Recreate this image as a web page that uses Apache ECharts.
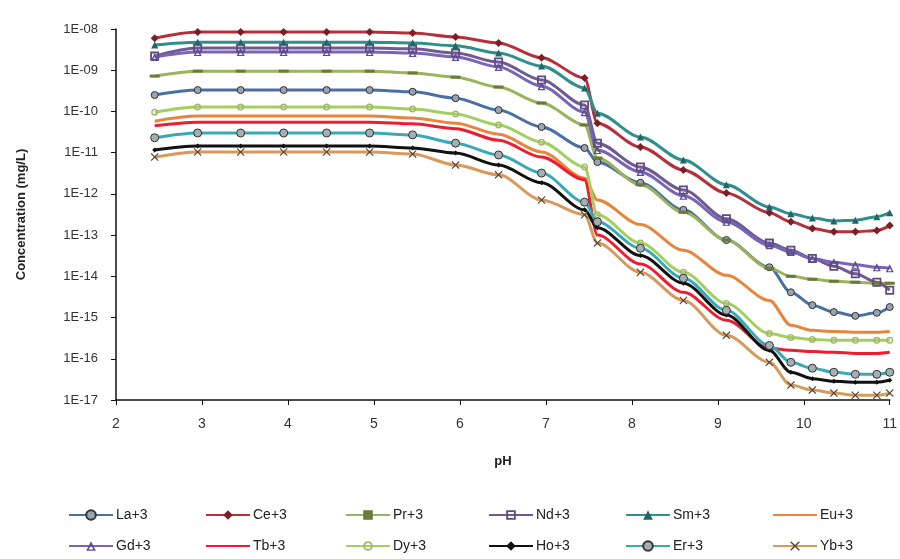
<!DOCTYPE html>
<html>
<head>
<meta charset="utf-8">
<title>REE concentration vs pH</title>
<script src="https://cdn.jsdelivr.net/npm/echarts@6/dist/echarts.min.js"></script>
<style>
  html, body { margin: 0; padding: 0; background: #fff; }
  #chartId { width: 900px; height: 559px; }
</style>
</head>
<body>
<div id="chartId"></div>
<script>
// pH points of the model runs
const pH = [2.45, 2.95, 3.45, 3.95, 4.45, 4.95, 5.45, 5.95, 6.45, 6.95, 7.45, 7.6, 8.1, 8.6, 9.1, 9.6, 9.85, 10.1, 10.35, 10.6, 10.85, 11]

// concentration (mg/L) of each ion
const la = [2.5e-10, 3.3e-10, 3.3e-10, 3.3e-10, 3.3e-10, 3.3e-10, 3.0e-10, 2.1e-10, 1.08e-10, 4.2e-11, 1.3e-11, 5.9e-12, 1.86e-12, 4.1e-13, 7.6e-14, 1.66e-14, 4.1e-15, 2.0e-15, 1.36e-15, 1.1e-15, 1.3e-15, 1.8e-15]
const ce = [6.0e-9, 8.5e-9, 8.5e-9, 8.4e-9, 8.5e-9, 8.5e-9, 8.0e-9, 6.4e-9, 4.6e-9, 2.0e-9, 6.5e-10, 5.2e-11, 1.37e-11, 3.8e-12, 1.05e-12, 3.5e-13, 2.1e-13, 1.44e-13, 1.2e-13, 1.2e-13, 1.3e-13, 1.7e-13]
const pr = [7.2e-10, 9.5e-10, 9.5e-10, 9.5e-10, 9.5e-10, 9.5e-10, 8.6e-10, 6.8e-10, 3.9e-10, 1.6e-10, 4.7e-11, 7.4e-12, 1.66e-12, 3.6e-13, 7.6e-14, 1.57e-14, 1.0e-14, 8.5e-15, 7.6e-15, 7.2e-15, 6.8e-15, 6.8e-15]
const nd = [2.2e-9, 3.45e-9, 3.45e-9, 3.45e-9, 3.45e-9, 3.45e-9, 3.3e-9, 2.6e-9, 1.58e-9, 5.8e-10, 1.43e-10, 1.7e-11, 4.5e-12, 1.24e-12, 2.5e-13, 6.4e-14, 4.3e-14, 2.7e-14, 1.75e-14, 1.15e-14, 7.2e-15, 4.6e-15]
const sm = [4.1e-9, 4.8e-9, 4.8e-9, 4.8e-9, 4.8e-9, 4.8e-9, 4.6e-9, 3.9e-9, 2.6e-9, 1.27e-9, 3.7e-10, 9.1e-11, 2.4e-11, 6.6e-12, 1.66e-12, 4.8e-13, 3.3e-13, 2.6e-13, 2.2e-13, 2.3e-13, 2.8e-13, 3.5e-13]
const eu = [5.8e-11, 7.7e-11, 7.7e-11, 7.7e-11, 7.7e-11, 7.7e-11, 6.9e-11, 5.2e-11, 2.8e-11, 1.04e-11, 2.4e-12, 7.1e-13, 1.8e-13, 4.3e-14, 1.06e-14, 2.6e-15, 6.5e-16, 4.9e-16, 4.6e-16, 4.4e-16, 4.4e-16, 4.6e-16]
const gd = [2.1e-9, 2.75e-9, 2.75e-9, 2.75e-9, 2.75e-9, 2.75e-9, 2.6e-9, 2.1e-9, 1.2e-9, 4.1e-10, 9.6e-11, 1.16e-11, 3.4e-12, 9.0e-13, 2.1e-13, 5.7e-14, 3.9e-14, 2.7e-14, 2.2e-14, 1.9e-14, 1.66e-14, 1.57e-14]
const tb = [4.5e-11, 5.5e-11, 5.5e-11, 5.5e-11, 5.5e-11, 5.5e-11, 5.0e-11, 3.8e-11, 2.0e-11, 7.8e-12, 2.2e-12, 1.0e-13, 2.0e-14, 4.1e-15, 8.6e-16, 1.8e-16, 1.6e-16, 1.5e-16, 1.44e-16, 1.35e-16, 1.35e-16, 1.44e-16]
const dy = [9.6e-11, 1.28e-10, 1.28e-10, 1.28e-10, 1.28e-10, 1.28e-10, 1.14e-10, 8.7e-11, 4.7e-11, 1.8e-11, 4.5e-12, 3.1e-13, 6.4e-14, 1.25e-14, 2.2e-15, 4.1e-16, 3.3e-16, 2.95e-16, 2.8e-16, 2.8e-16, 2.8e-16, 2.8e-16]
const ho = [1.16e-11, 1.45e-11, 1.45e-11, 1.45e-11, 1.45e-11, 1.45e-11, 1.3e-11, 9.8e-12, 5.0e-12, 1.86e-12, 4.1e-13, 1.5e-13, 3.2e-14, 6.8e-15, 1.15e-15, 1.6e-16, 4.7e-17, 3.3e-17, 2.85e-17, 2.7e-17, 2.7e-17, 3.0e-17]
const er = [2.3e-11, 3.0e-11, 3.0e-11, 3.0e-11, 3.0e-11, 3.0e-11, 2.7e-11, 1.7e-11, 8.8e-12, 3.2e-12, 6.3e-13, 2.1e-13, 4.8e-14, 9.0e-15, 1.5e-15, 2.1e-16, 8.2e-17, 5.9e-17, 4.7e-17, 4.2e-17, 4.2e-17, 4.7e-17]
const yb = [7.8e-12, 1.04e-11, 1.04e-11, 1.04e-11, 1.04e-11, 1.04e-11, 9.3e-12, 5.0e-12, 2.9e-12, 7.1e-13, 3.1e-13, 6.4e-14, 1.25e-14, 2.6e-15, 3.7e-16, 8.2e-17, 2.3e-17, 1.74e-17, 1.47e-17, 1.3e-17, 1.3e-17, 1.47e-17]

const xTicks = [2, 3, 4, 5, 6, 7, 8, 9, 10, 11]
const yMin = 1e-17
const yMax = 1e-8

const FONT = 'Liberation Sans'

// marker shapes drawn as filled paths (open shapes are rings)
const xMark = 'path://M0,1L1,0L5,4L9,0L10,1L6,5L10,9L9,10L5,6L1,10L0,9L4,5Z'
const dashMark = 'path://M0,0H10V3H0Z'
const openSquare = 'path://M0,0H10V10H0Z M2,2V8H8V2Z'
const openTri = 'path://M5,0L10,10H0Z M5,4L2.6,8.6H7.4Z'
const openRing = 'path://M5,0A5,5 0 1,1 4.99,0Z M5,2A3,3 0 1,0 5.01,2Z'

// name, data, line colour, marker, marker size, marker colour
const ions = [
  ['La+3', la, '#4a6fa5', 'circle', 7, '#98a3b3'],
  ['Ce+3', ce, '#b5303a', 'diamond', 8, '#7a1f26'],
  ['Pr+3', pr, '#9bb35a', dashMark, [10, 3], '#6b7a3a'],
  ['Nd+3', nd, '#6f5a92', openSquare, 9, '#5e4c80'],
  ['Sm+3', sm, '#2f8f8c', 'triangle', 7, '#1f6664'],
  ['Eu+3', eu, '#e8843c', 'none', 0, '#e8843c'],
  ['Gd+3', gd, '#7765b8', openTri, 8, '#5b4c95'],
  ['Tb+3', tb, '#ee1c2e', 'none', 0, '#ee1c2e'],
  ['Dy+3', dy, '#a2d05e', openRing, 7, '#a6b46e'],
  ['Ho+3', ho, '#111111', 'diamond', 5, '#111111'],
  ['Er+3', er, '#38a9b8', 'circle', 8, '#a2b0b3'],
  ['Yb+3', yb, '#d59a5c', xMark, 8, '#5a4630'],
]

const fmtExp = (v) => {
  const e = Math.round(Math.log10(v))
  const n = Math.abs(e)
  return '1E' + (e < 0 ? '-' : '+') + (n < 10 ? '0' + n : n)
}

const legendCols = [63, 200, 340, 483, 620, 767]

// no marker in the legend for series drawn without one
const legendItem = (it) => {
  if (it[3] === 'none') return { name: it[0], itemStyle: { opacity: 0 } }
  return { name: it[0] }
}

const setChart = () => {
  const myChart = echarts.init(document.getElementById('chartId'))

  const series = ions.map((it) => ({
    name: it[0],
    type: 'line',
    smooth: 0.3,
    smoothMonotone: 'x',
    data: pH.map((x, i) => [x, it[1][i]]),
    symbol: it[3],
    symbolSize: it[4],
    showSymbol: it[3] !== 'none',
    lineStyle: { color: it[2], width: 3, type: 'solid' },
    itemStyle: {
      color: it[5],
      // hatched look for the round markers
      borderColor: it[3] === 'circle' ? '#333' : it[5],
      borderWidth: it[3] === 'circle' ? 1 : 0,
    },
    emphasis: { disabled: true },
  }))

  // six small legends, one per column, two rows each
  const legend = legendCols.map((left, c) => ({
    orient: 'vertical',
    left: left,
    top: 503,
    itemWidth: 44,
    itemHeight: 12,
    itemGap: 17,
    data: [legendItem(ions[c]), legendItem(ions[c + 6])],
    textStyle: { fontFamily: FONT, fontSize: 14, color: '#222', padding: [0, 0, 0, -2] },
  }))

  const option = {
    animation: false,
    backgroundColor: '#fff',
    grid: { left: 116, right: 10, top: 29, bottom: 159, containLabel: false },
    legend: legend,
    xAxis: {
      type: 'value',
      min: 2,
      max: 11,
      interval: 1,
      name: 'pH',
      nameLocation: 'middle',
      nameGap: 55,
      nameTextStyle: { fontFamily: FONT, fontSize: 13, fontWeight: 'bold', color: '#222' },
      axisLine: { lineStyle: { color: '#111', width: 1.5 } },
      axisTick: { show: true, length: 5, lineStyle: { color: '#111' } },
      axisLabel: {
        margin: 17,
        fontFamily: FONT,
        fontSize: 14,
        color: '#333',
        formatter: (v) => (xTicks.includes(v) ? String(v) : ''),
      },
      splitLine: { show: false },
    },
    yAxis: {
      type: 'log',
      logBase: 10,
      min: yMin,
      max: yMax,
      name: 'Concentration (mg/L)',
      nameLocation: 'middle',
      nameGap: 88,
      nameTextStyle: { fontFamily: FONT, fontSize: 13, fontWeight: 'bold', color: '#222' },
      axisLine: { show: true, lineStyle: { color: '#111', width: 1.5 } },
      axisTick: { show: true, length: 5, lineStyle: { color: '#111' } },
      axisLabel: {
        margin: 18,
        fontFamily: FONT,
        fontSize: 13,
        color: '#333',
        formatter: fmtExp,
      },
      splitLine: { show: false },
      minorTick: { show: false },
    },
    series: series,
  }
  myChart.setOption(option)
}

setChart()
</script>
</body>
</html>
